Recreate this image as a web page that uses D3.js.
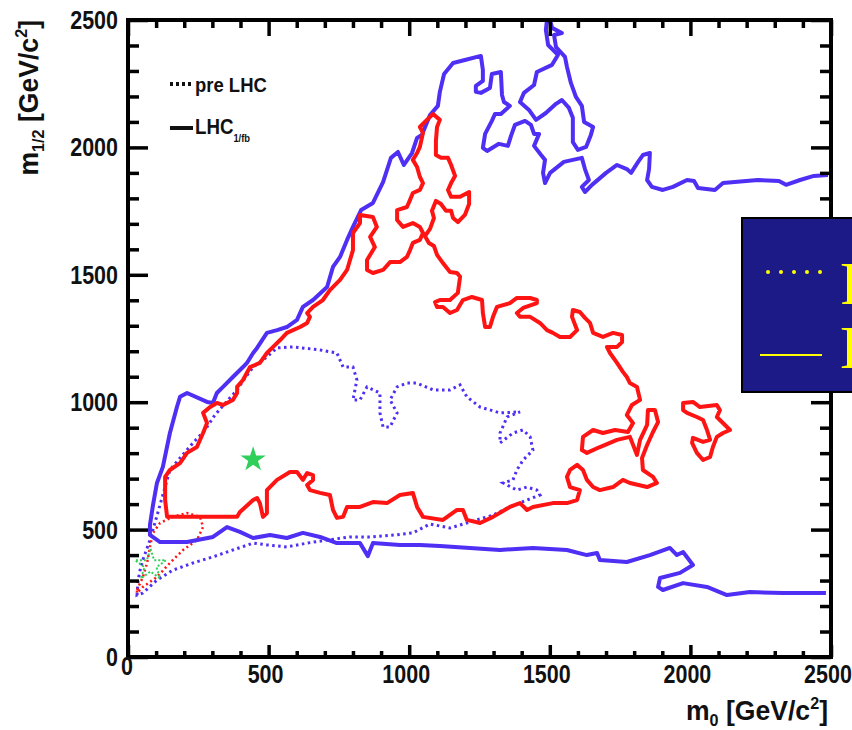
<!DOCTYPE html>
<html>
<head>
<meta charset="utf-8">
<script src="https://cdn.jsdelivr.net/npm/d3@7"></script>
<style>
  body { margin: 0; background: #fff; }
  svg { display: block; }
  text { font-family: "Liberation Sans", Arial, Helvetica, sans-serif; font-weight: bold; }
</style>
</head>
<body>
<svg id="chart" width="852" height="730"></svg>
<script>
// axis ticks
const xMajor = [0, 500, 1000, 1500, 2000, 2500];
const yMajor = [0, 500, 1000, 1500, 2000, 2500];
const xLabels = ["0", "500", "1000", "1500", "2000", "2500"];
const yLabels = ["0", "500", "1000", "1500", "2000", "2500"];

// LHC 1/fb, blue solid: open contour, enters at the right edge twice
const blueSolid = [
  [2482,251],[2329,251],[2212,255],[2130,243],[2059,275],[1974,290],[1902,263],[1885,275],[1892,310],
  [1963,330],[2009,361],[1974,412],[1952,400],[1927,428],[1856,400],[1774,373],[1678,381],[1668,408],
  [1632,400],[1561,420],[1440,428],[1323,420],[1216,428],[1109,436],[1038,440],[967,440],[871,447],
  [853,396],[825,447],[743,447],[683,471],[622,487],[565,467],[505,479],[445,467],[398,491],[352,510],
  [302,471],[210,451],[114,451],[78,479],[78,518],[89,597],[103,683],[124,746],[149,879],[174,981],
  [185,1021],[210,1036],[281,1001],[302,997],[316,1036],[338,1060],[373,1099],[409,1138],[423,1154],
  [445,1193],[459,1213],[494,1272],[530,1283],[565,1295],[601,1323],[622,1374],[658,1401],[708,1452],
  [729,1531],[754,1570],[779,1637],[800,1688],[829,1754],[871,1782],[907,1864],[935,1959],[960,1982],
  [981,1931],[1010,1978],[1028,2037],[1045,2049],[1074,2127],[1102,2163],[1109,2218],[1124,2288],
  [1156,2331],[1198,2343],[1255,2359],[1262,2304],[1262,2261],[1237,2241],[1237,2218],[1255,2214],
  [1287,2233],[1294,2288],[1326,2296],[1330,2206],[1337,2178],[1358,2163],[1326,2131],[1305,2131],
  [1294,2104],[1270,2053],[1262,1998],[1277,1986],[1319,2014],[1351,2006],[1362,2045],[1376,2088],
  [1412,2104],[1433,2088],[1444,2053],[1462,2053],[1444,2006],[1469,1970],[1483,1951],[1476,1900],
  [1483,1860],[1501,1900],[1550,1943],[1614,1959],[1625,1915],[1639,1872],[1614,1845],[1625,1825],
  [1650,1853],[1700,1900],[1739,1931],[1774,1915],[1789,1900],[1814,1943],[1831,1970],[1856,1978],
  [1853,1915],[1846,1872],[1863,1845],[1902,1833],[1938,1845],[1988,1872],[2013,1868],[2027,1841],
  [2087,1833],[2116,1860],[2240,1872],[2315,1868],[2340,1853],[2390,1872],[2439,1888],[2489,1892]
];
// LHC 1/fb, blue solid: piece hanging from the top edge
const blueSolidTop = [
  [1490,2500],[1486,2461],[1494,2402],[1529,2363],[1508,2324],[1454,2296],[1444,2245],[1408,2214],
  [1394,2178],[1426,2147],[1451,2108],[1486,2135],[1522,2171],[1543,2186],[1568,2155],[1582,2116],
  [1582,2021],[1600,1990],[1629,2002],[1646,2049],[1654,2080],[1622,2100],[1614,2163],[1593,2198],
  [1575,2253],[1561,2316],[1554,2355],[1522,2394],[1515,2441],[1543,2449],[1508,2469],[1501,2500]
];
// LHC 1/fb, red solid: closed contour
const redSolid = [
  [132,707],[149,734],[185,761],[210,801],[245,824],[267,879],[281,918],[267,958],[292,981],[316,997],
  [338,989],[373,1009],[388,1036],[388,1060],[409,1087],[434,1138],[469,1154],[494,1193],[516,1217],
  [541,1244],[565,1272],[612,1295],[637,1311],[647,1335],[637,1350],[658,1374],[693,1401],[718,1440],
  [754,1480],[779,1519],[800,1597],[800,1664],[825,1703],[825,1735],[871,1727],[885,1688],[861,1649],
  [878,1609],[850,1558],[850,1519],[871,1507],[907,1519],[932,1550],[967,1550],[992,1570],[1003,1597],
  [1013,1625],[1038,1637],[1049,1664],[1038,1688],[1013,1703],[978,1688],[957,1715],[957,1754],
  [992,1766],[1003,1794],[1013,1821],[1038,1833],[1049,1860],[1038,1884],[1028,1923],[1013,1951],
  [1028,1978],[1038,2002],[1049,2057],[1038,2080],[1063,2108],[1085,2131],[1109,2108],[1099,2080],
  [1095,2025],[1095,1970],[1113,1959],[1138,1959],[1149,1931],[1163,1888],[1149,1860],[1138,1833],
  [1149,1806],[1181,1806],[1213,1825],[1213,1778],[1198,1735],[1173,1707],[1156,1723],[1149,1751],
  [1131,1751],[1113,1778],[1095,1790],[1081,1751],[1088,1723],[1074,1680],[1056,1652],[1070,1625],
  [1088,1613],[1099,1578],[1120,1546],[1145,1511],[1170,1507],[1181,1492],[1173,1429],[1145,1401],
  [1109,1401],[1092,1393],[1099,1374],[1120,1374],[1145,1350],[1170,1362],[1191,1401],[1223,1413],
  [1259,1401],[1262,1350],[1270,1295],[1287,1295],[1298,1335],[1312,1374],[1358,1389],[1383,1409],
  [1430,1409],[1454,1401],[1454,1389],[1405,1370],[1383,1350],[1394,1335],[1430,1335],[1465,1311],
  [1490,1283],[1511,1272],[1536,1256],[1572,1256],[1597,1283],[1590,1303],[1579,1335],[1582,1362],
  [1607,1354],[1625,1331],[1643,1311],[1654,1272],[1689,1256],[1725,1272],[1757,1264],[1757,1236],
  [1739,1217],[1703,1217],[1714,1193],[1739,1154],[1760,1119],[1774,1099],[1785,1075],[1810,1060],
  [1821,1009],[1792,989],[1774,950],[1796,918],[1778,883],[1732,891],[1689,879],[1654,891],[1618,864],
  [1614,812],[1632,801],[1678,824],[1739,852],[1785,864],[1810,793],[1821,852],[1846,911],[1849,969],
  [1874,969],[1885,922],[1867,883],[1846,832],[1828,781],[1831,734],[1867,707],[1881,683],[1846,667],
  [1785,683],[1760,695],[1725,667],[1678,655],[1654,667],[1632,695],[1618,734],[1597,754],[1572,734],
  [1561,707],[1572,667],[1607,655],[1597,616],[1561,604],[1511,604],[1440,589],[1419,577],[1394,604],
  [1358,589],[1298,550],[1252,526],[1205,538],[1191,577],[1170,577],[1120,538],[1049,550],[1028,589],
  [1013,644],[967,636],[921,604],[871,608],[825,589],[779,589],[765,550],[743,546],[729,577],[718,636],
  [683,644],[647,655],[637,675],[658,695],[658,714],[637,722],[622,695],[601,726],[576,726],[530,695],
  [494,655],[494,565],[480,550],[469,604],[459,624],[445,616],[398,569],[388,550],[327,550],[210,550],
  [139,550],[132,616]
];
// LHC 1/fb, red solid: island on the right
const redIsland = [
  [1974,997],[2009,1001],[2034,981],[2094,989],[2105,969],[2094,942],[2141,891],[2116,879],[2094,864],
  [2080,824],[2070,785],[2045,773],[2023,801],[2006,840],[2009,860],[2045,844],[2070,852],[2059,891],
  [2045,930],[2023,942],[1988,958],[1974,969]
];
// pre LHC, blue dotted
const blueDotted = [
  [32,243],[36,302],[43,341],[53,381],[78,459],[114,597],[149,734],[185,781],[231,840],[274,891],
  [309,950],[356,1009],[388,1048],[416,1095],[445,1138],[494,1178],[530,1213],[587,1217],[683,1205],
  [743,1193],[765,1138],[800,1138],[814,1087],[800,1009],[825,1009],[850,1060],[896,1036],[896,958],
  [907,903],[932,903],[957,958],[932,1009],[957,1060],[992,1075],[1028,1075],[1085,1048],[1145,1048],
  [1181,1068],[1205,1021],[1252,981],[1323,958],[1394,962],[1348,942],[1323,879],[1323,840],[1369,879],
  [1405,891],[1430,864],[1440,812],[1405,773],[1383,734],[1369,695],[1334,683],[1383,655],[1419,667],
  [1454,655],[1465,636],[1419,616],[1358,589],[1298,557],[1216,530],[1145,506],[1074,522],[1013,487],
  [949,479],[861,471],[789,471],[708,459],[637,447],[565,432],[494,440],[445,447],[373,420],[302,393],
  [231,369],[160,341],[103,302],[53,251]
];
// pre LHC, red dotted
const redDotted = [
  [32,263],[53,314],[68,369],[78,432],[89,487],[114,526],[160,550],[210,565],[256,550],[267,510],
  [245,459],[196,420],[149,369],[103,314],[53,275],[32,251]
];
// best fit points
const starLHC = [[445, 775]];
const starPre = [[80, 360]];

const legendLines = ["pre LHC", "LHC"];

const svg = d3.select('#chart');
const x = d3.scaleLinear().domain([0, 2500]).range([128, 831]);
const y = d3.scaleLinear().domain([0, 2500]).range([657, 20]);

svg.append('defs').append('clipPath').attr('id', 'plotclip')
  .append('rect').attr('x', 128).attr('y', 20).attr('width', 703).attr('height', 637);

const plot = svg.append('g').attr('clip-path', 'url(#plotclip)');
const line = d3.line().x(d => x(d[0])).y(d => y(d[1]));
const closed = d3.line().x(d => x(d[0])).y(d => y(d[1])).curve(d3.curveLinearClosed);

const BLUE = '#4f2ff4', RED = '#ff1414', GREEN = '#2fcf5a';

// dotted pre LHC contours
plot.append('path').attr('d', closed(blueDotted)).attr('fill', 'none')
  .attr('stroke', BLUE).attr('stroke-width', 3).attr('stroke-dasharray', '2.5,3.5');
plot.append('path').attr('d', closed(redDotted)).attr('fill', 'none')
  .attr('stroke', RED).attr('stroke-width', 2.5).attr('stroke-dasharray', '2,3');

// solid LHC contours
plot.append('path').attr('d', line(blueSolid)).attr('fill', 'none')
  .attr('stroke', BLUE).attr('stroke-width', 4).attr('stroke-linejoin', 'round');
plot.append('path').attr('d', line(blueSolidTop)).attr('fill', 'none')
  .attr('stroke', BLUE).attr('stroke-width', 4).attr('stroke-linejoin', 'round');
plot.append('path').attr('d', closed(redSolid)).attr('fill', 'none')
  .attr('stroke', RED).attr('stroke-width', 4).attr('stroke-linejoin', 'round');
plot.append('path').attr('d', closed(redIsland)).attr('fill', 'none')
  .attr('stroke', RED).attr('stroke-width', 4).attr('stroke-linejoin', 'round');

// stars
const star = d3.symbol().type(d3.symbolStar);
plot.selectAll('.starpre').data(starPre).enter().append('path')
  .attr('transform', d => 'translate(' + x(d[0]) + ',' + y(d[1]) + ')')
  .attr('d', star.size(300)).attr('fill', 'none').attr('stroke', GREEN)
  .attr('stroke-width', 2).attr('stroke-dasharray', '2,2');
plot.selectAll('.starlhc').data(starLHC).enter().append('path')
  .attr('transform', d => 'translate(' + x(d[0]) + ',' + y(d[1]) + ')')
  .attr('d', star.size(200)).attr('fill', GREEN);

// frame and ticks (pointing inward)
const xMinor = d3.range(0, 2501, 100).filter(v => v % 500 !== 0);
const yMinor = xMinor;
function ticks(axis, tr, vals, len) {
  svg.append('g').attr('transform', tr)
    .call(axis.tickValues(vals).tickSize(-len).tickFormat(''))
    .call(g => g.select('.domain').remove())
    .selectAll('line').attr('stroke', '#000').attr('stroke-width', 3.5);
}
ticks(d3.axisBottom(x), 'translate(0,657)', xMajor, 12);
ticks(d3.axisBottom(x), 'translate(0,657)', xMinor, 6);
ticks(d3.axisTop(x), 'translate(0,20)', xMajor, 16);
ticks(d3.axisTop(x), 'translate(0,20)', xMinor, 8);
ticks(d3.axisLeft(y), 'translate(128,0)', yMajor, 20);
ticks(d3.axisLeft(y), 'translate(128,0)', yMinor, 11);
ticks(d3.axisRight(y), 'translate(831,0)', yMajor, 20);
ticks(d3.axisRight(y), 'translate(831,0)', yMinor, 11);

svg.append('rect').attr('x', 128).attr('y', 20).attr('width', 703).attr('height', 637)
  .attr('fill', 'none').attr('stroke', '#000').attr('stroke-width', 4);

// tick labels
svg.selectAll('.xlab').data(xMajor).enter().append('text')
  .attr('transform', (d, i) => i === 0
      ? 'translate(' + (x(d) - 1) + ',675) scale(0.86,1)'
      : 'translate(' + (x(d) - 3) + ',683) scale(0.86,1)')
  .attr('text-anchor', 'middle').attr('font-size', 25).attr('fill', '#111')
  .text((d, i) => xLabels[i]);
svg.selectAll('.ylab').data(yMajor).enter().append('text')
  .attr('transform', d => 'translate(118,' + (y(d) + 9) + ') scale(0.86,1)')
  .attr('text-anchor', 'end').attr('font-size', 25).attr('fill', '#111')
  .text((d, i) => yLabels[i]);

// axis titles
const xt = svg.append('text').attr('transform', 'translate(828,720) scale(0.95,1)')
  .attr('text-anchor', 'end').attr('font-size', 28).attr('fill', '#111');
xt.append('tspan').text('m');
xt.append('tspan').attr('font-size', 17).attr('dy', 6).text('0');
xt.append('tspan').attr('dy', -6).text(' [GeV/c');
xt.append('tspan').attr('font-size', 17).attr('dy', -11).text('2');
xt.append('tspan').attr('dy', 11).text(']');

const yt = svg.append('text').attr('transform', 'translate(38,20) rotate(-90) scale(0.95,1)')
  .attr('text-anchor', 'end').attr('font-size', 28).attr('fill', '#111');
yt.append('tspan').text('m');
yt.append('tspan').attr('font-size', 17).attr('dy', 6).text('1/2');
yt.append('tspan').attr('dy', -6).text(' [GeV/c');
yt.append('tspan').attr('font-size', 17).attr('dy', -11).text('2');
yt.append('tspan').attr('dy', 11).text(']');

// small legend
svg.append('line').attr('x1', 170).attr('x2', 193).attr('y1', 84).attr('y2', 84)
  .attr('stroke', '#111').attr('stroke-width', 4).attr('stroke-dasharray', '3,3');
svg.append('line').attr('x1', 170).attr('x2', 193).attr('y1', 128).attr('y2', 128)
  .attr('stroke', '#111').attr('stroke-width', 4);
svg.append('text').attr('transform', 'translate(195,92) scale(0.88,1)')
  .attr('font-size', 21).attr('fill', '#111').text(legendLines[0]);
const l2 = svg.append('text').attr('transform', 'translate(195,134) scale(0.85,1)')
  .attr('font-size', 22).attr('fill', '#111');
l2.append('tspan').text(legendLines[1]);
l2.append('tspan').attr('font-size', 11).attr('dy', 8).text('1/fb');

// overlay box on the right
svg.append('rect').attr('x', 742).attr('y', 218).attr('width', 130).attr('height', 174)
  .attr('fill', '#1b1a87').attr('stroke', '#000').attr('stroke-width', 2);
svg.append('line').attr('x1', 768).attr('x2', 822).attr('y1', 272).attr('y2', 272)
  .attr('stroke', '#ffff00').attr('stroke-width', 4).attr('stroke-linecap', 'round')
  .attr('stroke-dasharray', '0,13');
svg.append('line').attr('x1', 760).attr('x2', 822).attr('y1', 355).attr('y2', 355)
  .attr('stroke', '#ffff00').attr('stroke-width', 2);
svg.append('text').attr('x', 840).attr('y', 304).attr('font-size', 62)
  .style('font-family', '"Liberation Serif", "Times New Roman", serif').style('font-weight', 'normal')
  .attr('fill', '#ffff00').text('Pre-LHC');
svg.append('text').attr('x', 840).attr('y', 368).attr('font-size', 62)
  .style('font-family', '"Liberation Serif", "Times New Roman", serif').style('font-weight', 'normal')
  .attr('fill', '#ffff00').text('LHC 1/fb');
</script>
</body>
</html>
